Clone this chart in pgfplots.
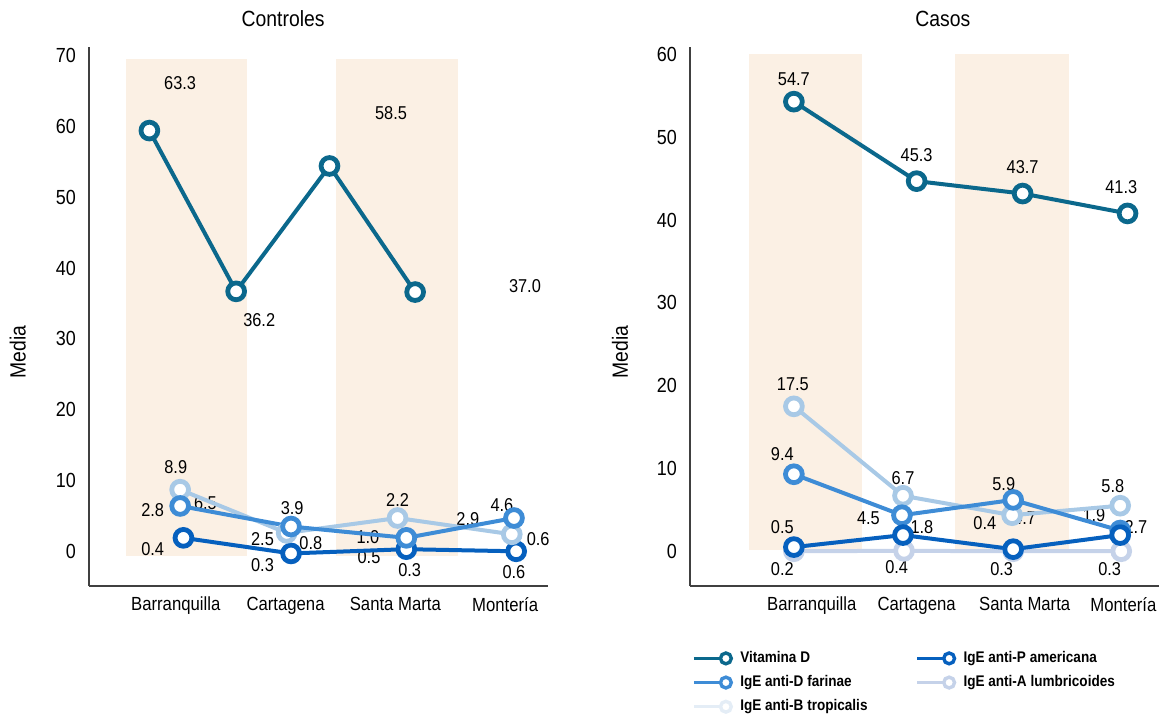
\documentclass[border=0pt]{standalone}
\usepackage{pgfplots}
\pgfplotsset{compat=1.18}
\usepackage{fontspec}
\setmainfont{Liberation Sans}[FakeStretch=0.88]

\definecolor{vitd}{RGB}{11,104,140}
\definecolor{farinae}{RGB}{62,140,214}
\definecolor{americana}{RGB}{6,96,190}
\definecolor{lightb}{RGB}{168,201,230}
\definecolor{lumbri}{RGB}{197,210,233}
\definecolor{tropi}{RGB}{228,237,246}
\definecolor{band}{RGB}{251,240,228}

\tikzset{lab/.style={font=\fontsize{9.3}{11}\selectfont, inner sep=0pt}}
\pgfplotsset{
  panel/.style={
    scale only axis, height=269.5pt,
    axis x line*=bottom, axis y line*=left,
    axis line style={-, draw=black!75, line width=0.7pt},
    major tick length=0pt,
    /pgf/number format/assume math mode=true,
    yticklabel style={font=\fontsize{10.2}{12}\selectfont, xshift=-3pt},
    xticklabel style={font=\fontsize{9.5}{11}\selectfont, yshift=-2pt},
    xticklabels={Barranquilla, Cartagena, Santa Marta, Montería},
    ylabel=Media,
    ylabel style={font=\fontsize{11}{13}\selectfont, anchor=center},
    title style={font=\fontsize{11}{13}\selectfont, anchor=center},
    clip=false,
  },
  ser/.style={color=#1, line width=2pt, mark=*,
    mark options={fill=white, draw=#1, line width=2.4pt}, mark size=4.2pt},
  leg/.style={color=#1, mark=*, mark size=2.7pt,
    mark options={fill=white, draw=#1, line width=1.7pt}},
}

\begin{document}
\begin{tikzpicture}
\useasboundingbox (0,0) rectangle (579.5pt,357pt);

% Controles
\begin{axis}[panel, at={(44.5pt,64pt)}, anchor=south west, width=229.5pt,
  xmin=-0.79, xmax=3.39, ymin=-4.9, ymax=71.2,
  xtick={0,1,2,3},
  ytick={0,10,...,70},
  title=Controles, title style={at={(axis description cs:0.423,1.03)}},
  ylabel style={at={(axis description cs:-0.155,0.434)}}]
\addplot[fill=band, draw=none] coordinates {(-0.45,-0.6) (0.65,-0.6) (0.65,69.5) (-0.45,69.5)} -- cycle;
\addplot[fill=band, draw=none] coordinates {(1.46,-0.6) (2.57,-0.6) (2.57,69.5) (1.46,69.5)} -- cycle;
\node[lab] at (axis cs:0.04,66.1) {63.3};
\node[lab] at (axis cs:0.76,32.6) {36.2};
\node[lab] at (axis cs:1.96,61.8) {58.5};
\node[lab] at (axis cs:3.18,37.4) {37.0};
\node[lab] at (axis cs:0,11.9) {8.9};
\node[lab] at (axis cs:-0.21,5.8) {2.8};
\node[lab] at (axis cs:0.27,6.8) {6.5};
\node[lab] at (axis cs:-0.21,0.3) {0.4};
\node[lab] at (axis cs:1.06,6.1) {3.9};
\node[lab] at (axis cs:0.79,1.7) {2.5};
\node[lab] at (axis cs:1.23,1.1) {0.8};
\node[lab] at (axis cs:0.79,-2.0) {0.3};
\node[lab] at (axis cs:2.02,7.2) {2.2};
\node[lab] at (axis cs:1.75,2.0) {1.0};
\node[lab] at (axis cs:1.76,-0.8) {0.5};
\node[lab] at (axis cs:2.13,-2.6) {0.3};
\node[lab] at (axis cs:2.66,4.6) {2.9};
\node[lab] at (axis cs:2.97,6.5) {4.6};
\node[lab] at (axis cs:3.30,1.7) {0.6};
\node[lab] at (axis cs:3.08,-2.9) {0.6};
\addplot[ser=americana] coordinates {(0.07,1.9) (1.05,-0.3) (2.10,0.3) (3.10,0.0)};
\addplot[ser=lightb] coordinates {(0.04,8.7) (1.01,2.6) (2.02,4.7) (3.06,2.4)};
\addplot[ser=farinae] coordinates {(0.04,6.4) (1.05,3.5) (2.10,1.9) (3.08,4.7)};
\addplot[ser=vitd] coordinates {(-0.24,59.4) (0.55,36.7) (1.40,54.4) (2.18,36.6)};
\end{axis}

% Casos
\begin{axis}[panel, at={(345pt,64pt)}, anchor=south west, width=234.5pt,
  xmin=-1.19, xmax=3.28, ymin=-4.2, ymax=60.9,
  xtick={-0.03,0.97,2.0,2.94},
  ytick={0,10,...,60},
  title=Casos, title style={at={(axis description cs:0.539,1.03)}},
  ylabel style={at={(axis description cs:-0.149,0.434)}},
  legend columns=2,
  legend cell align=left,
  legend style={at={(axis description cs:0.004,-0.113)}, anchor=north west,
    draw=none, fill=none, inner sep=0pt, row sep=1pt,
    font=\fontsize{7.7}{9}\selectfont\bfseries,
    /tikz/every even column/.append style={column sep=22pt}},
  legend image code/.code={
    \draw[#1, mark=none, line width=1.6pt] (0pt,0pt) -- (16pt,0pt);
    \draw[#1, line width=1.6pt] plot coordinates {(16pt,0pt)};
    \path (21pt,0pt);}]
\addplot[fill=band, draw=none, forget plot] coordinates {(-0.63,0.2) (0.45,0.2) (0.45,60.1) (-0.63,60.1)} -- cycle;
\addplot[fill=band, draw=none, forget plot] coordinates {(1.34,0.2) (2.42,0.2) (2.42,60.1) (1.34,60.1)} -- cycle;
\node[lab] at (axis cs:-0.2,57.0) {54.7};
\node[lab] at (axis cs:0.97,47.8) {45.3};
\node[lab] at (axis cs:1.98,46.4) {43.7};
\node[lab] at (axis cs:2.92,44.0) {41.3};
\node[lab] at (axis cs:-0.21,20.2) {17.5};
\node[lab] at (axis cs:-0.31,11.7) {9.4};
\node[lab] at (axis cs:-0.31,2.9) {0.5};
\node[lab] at (axis cs:-0.31,-2.2) {0.2};
\node[lab] at (axis cs:0.84,8.8) {6.7};
\node[lab] at (axis cs:0.51,3.95) {4.5};
\node[lab] at (axis cs:1.02,2.9) {1.8};
\node[lab] at (axis cs:0.78,-1.9) {0.4};
\node[lab] at (axis cs:1.80,8.1) {5.9};
\node[lab] at (axis cs:2.00,3.95) {4.7};
\node[lab] at (axis cs:1.62,3.4) {0.4};
\node[lab] at (axis cs:1.78,-2.2) {0.3};
\node[lab] at (axis cs:2.84,7.9) {5.8};
\node[lab] at (axis cs:2.66,4.35) {1.9};
\node[lab] at (axis cs:3.06,2.9) {2.7};
\node[lab] at (axis cs:2.81,-2.1) {0.3};
\addplot[ser=lumbri, forget plot] coordinates {(-0.2,0.0) (0.85,0.05) (1.89,0.0) (2.92,0.0)};
\addplot[ser=lightb, forget plot] coordinates {(-0.2,17.5) (0.84,6.7) (1.88,4.35) (2.91,5.5)};
\addplot[ser=farinae, forget plot] coordinates {(-0.2,9.3) (0.83,4.35) (1.89,6.2) (2.91,2.5)};
\addplot[ser=americana, forget plot] coordinates {(-0.2,0.5) (0.84,1.95) (1.89,0.25) (2.91,1.95)};
\addplot[ser=vitd, forget plot] coordinates {(-0.2,54.3) (0.97,44.7) (1.98,43.2) (2.98,40.8)};
\addlegendimage{leg=vitd}
\addlegendentry{Vitamina D}
\addlegendimage{leg=americana}
\addlegendentry{IgE anti-P americana}
\addlegendimage{leg=farinae}
\addlegendentry{IgE anti-D farinae}
\addlegendimage{leg=lumbri}
\addlegendentry{IgE anti-A lumbricoides}
\addlegendimage{leg=tropi}
\addlegendentry{IgE anti-B tropicalis}
\end{axis}
\end{tikzpicture}
\end{document}
